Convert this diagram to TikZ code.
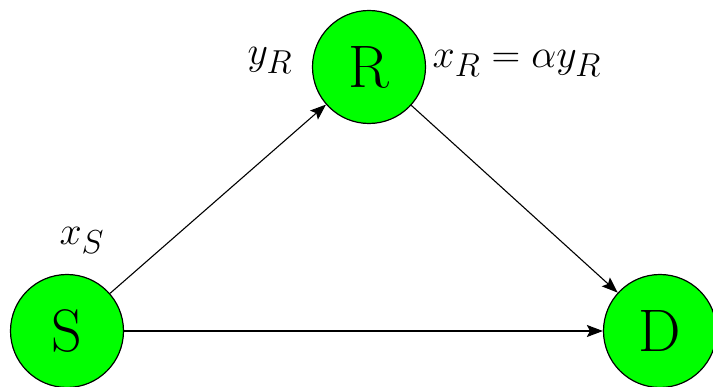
\documentclass[tikz,border=0pt]{standalone}
\usepackage{fontspec}
\usepackage{graphicx}
\usetikzlibrary{arrows.meta}
\newcommand{\biglabel}[1]{\scalebox{1.6}{\Huge$#1$}}

\begin{document}
\begin{tikzpicture}[
    x=1pt, y=-1pt,
    relay_node/.style={circle, draw=black, fill=green, line width=1.2pt, minimum size=113pt, inner sep=0pt, font=\fontsize{60}{60}\selectfont},
    sig_label/.style={inner sep=0pt},
    arrow/.style={-{Stealth[length=16pt, width=12pt, inset=3pt]}, line width=1.1pt}
]
    \useasboundingbox (0,0) rectangle (713,387);

    % Nodes
    \node[relay_node] (src) at (67,331) {S};
    \node[relay_node] (rly) at (369,67) {R};
    \node[relay_node] (dst) at (660,331) {D};

    % Labels
    \node[sig_label] (ys) at (270,60) {\biglabel{y_R}};
    \node[sig_label] (xr) at (517,63) {\biglabel{x_R=\alpha y_R}};
    \node[sig_label] (xs) at (82,240) {\biglabel{x_S}};

    % Arrows
    \draw[arrow] (src) -- (rly);
    \draw[arrow] (rly) -- (dst);
    \draw[arrow] (src) -- (dst);
\end{tikzpicture}
\end{document}
